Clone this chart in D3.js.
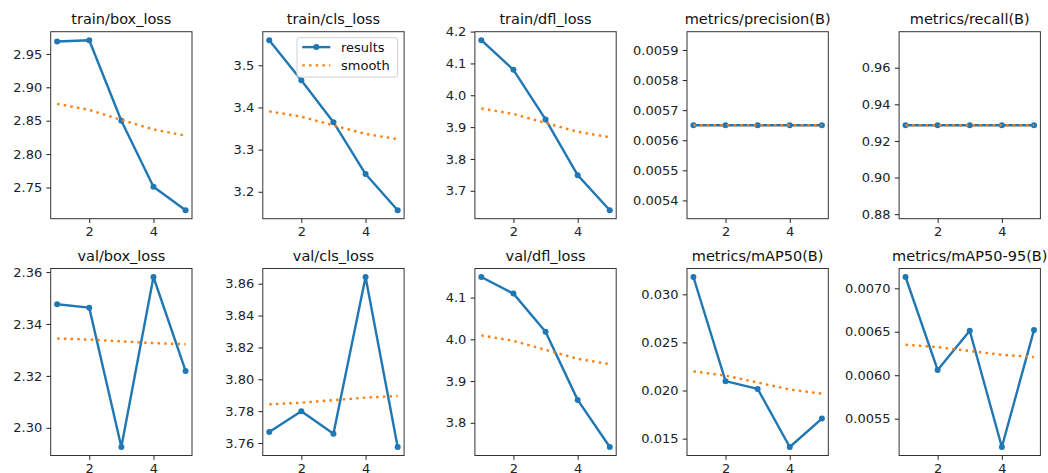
<!DOCTYPE html>
<html>
<head>
<meta charset="utf-8">
<script src="https://cdn.jsdelivr.net/npm/d3@7/dist/d3.min.js"></script>
<style>
  html, body { margin: 0; padding: 0; background: #fff; }
  svg { display: block; }
  text { font-family: "DejaVu Sans", sans-serif; }
</style>
</head>
<body>
<svg id="chart" width="1048" height="473"></svg>
<script>
// ---------------- data ----------------
const epochs = [1, 2, 3, 4, 5];
const xTicks = [2, 4];

const titles = [
  "train/box_loss", "train/cls_loss", "train/dfl_loss", "metrics/precision(B)", "metrics/recall(B)",
  "val/box_loss", "val/cls_loss", "val/dfl_loss", "metrics/mAP50(B)", "metrics/mAP50-95(B)"
];

const trainBoxLoss       = [2.9685, 2.9705, 2.8500, 2.7510, 2.7160];
const trainBoxLossSmooth = [2.8752, 2.8662, 2.8512, 2.8369, 2.8276];
const trainClsLoss       = [3.5595, 3.4643, 3.3650, 3.2420, 3.1563];
const trainClsLossSmooth = [3.3908, 3.3781, 3.3574, 3.3373, 3.3247];
const trainDflLoss       = [4.1730, 4.0800, 3.9240, 3.7490, 3.6390];
const trainDflLossSmooth = [3.9585, 3.9413, 3.9130, 3.8854, 3.8681];
const precisionB         = [0.00565, 0.00565, 0.00565, 0.00565, 0.00565];
const precisionBSmooth   = [0.00565, 0.00565, 0.00565, 0.00565, 0.00565];
const recallB            = [0.9286, 0.9286, 0.9286, 0.9286, 0.9286];
const recallBSmooth      = [0.9286, 0.9286, 0.9286, 0.9286, 0.9286];
const valBoxLoss         = [2.3476, 2.3463, 2.2926, 2.3581, 2.3219];
const valBoxLossSmooth   = [2.3344, 2.3340, 2.3333, 2.3326, 2.3322];
const valClsLoss         = [3.7669, 3.7800, 3.7658, 3.8642, 3.7575];
const valClsLossSmooth   = [3.7843, 3.7853, 3.7869, 3.7885, 3.7895];
const valDflLoss         = [4.1493, 4.1095, 4.0183, 3.8549, 3.7420];
const valDflLossSmooth   = [4.0094, 3.9962, 3.9748, 3.9534, 3.9402];
const mAP50B             = [0.03180, 0.02097, 0.02017, 0.01413, 0.01708];
const mAP50BSmooth       = [0.02199, 0.02155, 0.02083, 0.02011, 0.01967];
const mAP5095B           = [0.007130, 0.006061, 0.006512, 0.005174, 0.006519];
const mAP5095BSmooth     = [0.006351, 0.006323, 0.006279, 0.006235, 0.006209];

const yTickLabels = [
  ["2.75", "2.80", "2.85", "2.90", "2.95"],
  ["3.2", "3.3", "3.4", "3.5"],
  ["3.7", "3.8", "3.9", "4.0", "4.1", "4.2"],
  ["0.0054", "0.0055", "0.0056", "0.0057", "0.0058", "0.0059"],
  ["0.88", "0.90", "0.92", "0.94", "0.96"],
  ["2.30", "2.32", "2.34", "2.36"],
  ["3.76", "3.78", "3.80", "3.82", "3.84", "3.86"],
  ["3.8", "3.9", "4.0", "4.1"],
  ["0.015", "0.020", "0.025", "0.030"],
  ["0.0055", "0.0060", "0.0065", "0.0070"]
];

const resultSeries = [trainBoxLoss, trainClsLoss, trainDflLoss, precisionB, recallB,
                      valBoxLoss, valClsLoss, valDflLoss, mAP50B, mAP5095B];
const smoothSeries = [trainBoxLossSmooth, trainClsLossSmooth, trainDflLossSmooth, precisionBSmooth, recallBSmooth,
                      valBoxLossSmooth, valClsLossSmooth, valDflLossSmooth, mAP50BSmooth, mAP5095BSmooth];
const legendLabels = ["results", "smooth"];

// ---------------- layout ----------------
const LEFT0 = 50.7, DX = 212.1, PW = 141.3, PH = 187;
const TOPS = [31.7, 268.5];
const BLUE = "#1f77b4", ORANGE = "#ff7f0e";
const TICK_FS = 13, TITLE_FS = 14.5;

// matplotlib-like autoscale with 5% margins
function autoDomain(vals) {
  let lo = d3.min(vals), hi = d3.max(vals);
  if (hi - lo < 1e-12 * Math.max(1, Math.abs(hi))) {
    lo = lo - 0.05 * Math.abs(lo);
    hi = hi + 0.05 * Math.abs(hi);
  }
  const m = (hi - lo) * 0.05;
  return [lo - m, hi + m];
}

const svg = d3.select("#chart");
svg.append("rect").attr("width", 1048).attr("height", 473).attr("fill", "#fff");

titles.forEach((title, i) => {
  const col = i % 5, row = Math.floor(i / 5);
  const g = svg.append("g").attr("transform", `translate(${LEFT0 + col * DX},${TOPS[row]})`);
  const res = resultSeries[i], sm = smoothSeries[i];
  const x = d3.scaleLinear().domain([0.8, 5.2]).range([0, PW]);
  const y = d3.scaleLinear().domain(autoDomain(res.concat(sm))).range([PH, 0]);

  const ticks = yTickLabels[i];
  const yAxis = g.append("g")
    .call(d3.axisLeft(y).tickValues(ticks.map(Number)).tickFormat((d, k) => ticks[k])
      .tickSize(4.3).tickPadding(4.2));
  const xAxis = g.append("g").attr("transform", `translate(0,${PH})`)
    .call(d3.axisBottom(x).tickValues(xTicks).tickFormat(d3.format("d"))
      .tickSize(4.3).tickPadding(4.0));
  [yAxis, xAxis].forEach(a => {
    a.select(".domain").remove();
    a.attr("font-family", "DejaVu Sans").attr("font-size", TICK_FS).attr("color", "#222");
    a.selectAll("line").attr("stroke-width", 1);
  });

  const line = d3.line().x((d, k) => x(epochs[k])).y(d => y(d));

  g.append("path").datum(res).attr("d", line)
    .attr("fill", "none").attr("stroke", BLUE).attr("stroke-width", 2.4)
    .attr("stroke-linejoin", "round");
  g.selectAll(".pt").data(res).enter().append("circle")
    .attr("cx", (d, k) => x(epochs[k])).attr("cy", d => y(d)).attr("r", 3)
    .attr("fill", BLUE);
  g.append("path").datum(sm).attr("d", line)
    .attr("fill", "none").attr("stroke", ORANGE).attr("stroke-width", 2.4)
    .attr("stroke-dasharray", "2.5,4.2");

  g.append("rect").attr("x", 0).attr("y", 0).attr("width", PW).attr("height", PH)
    .attr("fill", "none").attr("stroke", "#333").attr("stroke-width", 1);

  g.append("text").attr("x", PW / 2).attr("y", -7.3).attr("text-anchor", "middle")
    .attr("font-size", TITLE_FS).attr("fill", "#111").text(title);

  if (i === 1) {
    const lw = 100.6, lh = 39.4;
    const lx = PW - 6.5 - lw, ly = 6.0;
    const lg = g.append("g").attr("transform", `translate(${lx},${ly})`);
    lg.append("rect").attr("width", lw).attr("height", lh).attr("rx", 2.5)
      .attr("fill", "#fff").attr("fill-opacity", 0.8)
      .attr("stroke", "#d0d0d0").attr("stroke-width", 1);
    const rowsY = [9.4, 27.7];
    legendLabels.forEach((lab, k) => {
      const yy = rowsY[k];
      if (k === 0) {
        lg.append("line").attr("x1", 5.3).attr("x2", 33.3).attr("y1", yy).attr("y2", yy)
          .attr("stroke", BLUE).attr("stroke-width", 2.4);
        lg.append("circle").attr("cx", 19.3).attr("cy", yy).attr("r", 3).attr("fill", BLUE);
      } else {
        lg.append("line").attr("x1", 5.3).attr("x2", 33.3).attr("y1", yy).attr("y2", yy)
          .attr("stroke", ORANGE).attr("stroke-width", 2.4).attr("stroke-dasharray", "2.5,4.2");
      }
      lg.append("text").attr("x", 44).attr("y", yy).attr("dy", "0.35em")
        .attr("font-size", TICK_FS).attr("fill", "#111").text(lab);
    });
  }
});
</script>
</body>
</html>
